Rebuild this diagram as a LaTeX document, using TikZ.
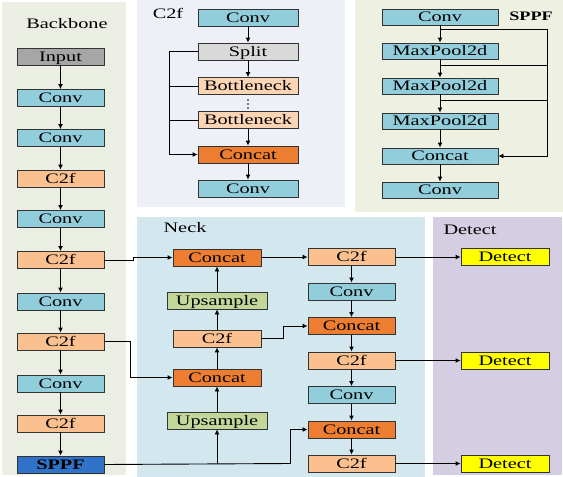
\documentclass[tikz,border=0pt]{standalone}
\usepackage{fontspec}
\setmainfont{Liberation Serif}[FakeStretch=1.4]
\usetikzlibrary{arrows.meta}
\definecolor{convc}{HTML}{92CDDC}
\definecolor{c2fc}{HTML}{FAC090}
\definecolor{inputc}{HTML}{A6A6A6}
\definecolor{splitc}{HTML}{D9D9D9}
\definecolor{bottc}{HTML}{FCD5B5}
\definecolor{catc}{HTML}{ED7D31}
\definecolor{sppfc}{HTML}{3072C8}
\definecolor{upc}{HTML}{C4D79B}
\definecolor{detc}{HTML}{FFFF00}
\definecolor{bordc}{HTML}{333333}
\definecolor{bbbg}{HTML}{EBEEE2}
\definecolor{cfbg}{HTML}{EDF0F6}
\definecolor{spbg}{HTML}{EEF0E2}
\definecolor{nkbg}{HTML}{D3E8EE}
\definecolor{dtbg}{HTML}{D5CDE1}
\begin{document}
\begin{tikzpicture}[x=1pt,y=-1pt,
  box/.style={draw=bordc, line width=0.9pt, inner sep=0pt, minimum height=17pt,
    font=\fontsize{14.5}{16}\selectfont, text height=10pt, text depth=0.4pt},
  bb/.style={box, minimum width=87pt},
  cf/.style={box, minimum width=100pt},
  sp/.style={box, minimum width=116pt, minimum height=16pt},
  nk/.style={box, minimum width=88pt},
  up/.style={box, minimum width=100pt, fill=upc},
  lbl/.style={font=\fontsize{14.5}{16}\selectfont, inner sep=0pt},
  arr/.style={-{Latex[length=5pt,width=5pt]}, line width=0.9pt, draw=black},
  ln/.style={line width=0.9pt, draw=black}]
\useasboundingbox (0,0) rectangle (563,477);
% panels
\fill[bbbg] (2,2) rectangle (126,475);
\fill[cfbg] (137,0) rectangle (345,207);
\fill[spbg] (355,0) rectangle (563,212);
\fill[nkbg] (137,217) rectangle (425,477);
\fill[dtbg] (433,217) rectangle (562,475);
% labels
\node[lbl] (Lbb) at (67,24) {Backbone};
\node[lbl] (Lcf) at (168,13) {C2f};
\node[lbl, font=\fontsize{13}{15}\selectfont] (Lsp) at (531,16) {\bfseries SPPF};
\node[lbl] (Lnk) at (185,228) {Neck};
\node[lbl] (Ldt) at (470,230) {Detect};
% backbone
\node[bb, fill=inputc] (b0) at (60.5,56.5) {Input};
\node[bb, fill=convc] (b1) at (60.5,98) {Conv};
\node[bb, fill=convc] (b2) at (60.5,138) {Conv};
\node[bb, fill=c2fc] (b3) at (60.5,178.5) {C2f};
\node[bb, fill=convc] (b4) at (60.5,219) {Conv};
\node[bb, fill=c2fc] (b5) at (60.5,260) {C2f};
\node[bb, fill=convc] (b6) at (60.5,301.5) {Conv};
\node[bb, fill=c2fc] (b7) at (60.5,341.5) {C2f};
\node[bb, fill=convc] (b8) at (60.5,383.5) {Conv};
\node[bb, fill=c2fc] (b9) at (60.5,423.5) {C2f};
\node[bb, fill=sppfc] (b10) at (60.5,464.5) {\bfseries SPPF};
\foreach \i/\j in {b0/b1,b1/b2,b2/b3,b3/b4,b4/b5,b5/b6,b6/b7,b7/b8,b8/b9,b9/b10}
  \draw[arr] (\i.south) -- (\j.north);
% C2f panel
\node[cf, fill=convc] (c0) at (248,17.5) {Conv};
\node[cf, fill=splitc] (c1) at (248,51.5) {Split};
\node[cf, fill=bottc] (c2) at (248,86) {Bottleneck};
\node[cf, fill=bottc] (c3) at (248,120) {Bottleneck};
\node[cf, fill=catc] (c4) at (248,154.5) {Concat};
\node[cf, fill=convc] (c5) at (248,188.5) {Conv};
\draw[arr] (c0.south) -- (c1.north);
\draw[arr] (c1.south) -- (c2.north);
\draw[arr] (c3.south) -- (c4.north);
\draw[arr] (c4.south) -- (c5.north);
\fill (248,100) circle (0.8) (248,104) circle (0.8) (248,108) circle (0.8);
\coordinate (cb) at (169,51.5);
\draw[ln] (c1.west) -- (cb);
\draw[arr] (cb) |- (c4.west);
\draw[ln] (c2.west) -- (c2.west -| cb);
\draw[ln] (c3.west) -- (c3.west -| cb);
% SPPF panel
\node[sp, fill=convc] (s0) at (440,17) {Conv};
\node[sp, fill=convc] (s1) at (440,51) {MaxPool2d};
\node[sp, fill=convc] (s2) at (440,86) {MaxPool2d};
\node[sp, fill=convc] (s3) at (440,121) {MaxPool2d};
\node[sp, fill=convc] (s4) at (440,156) {Concat};
\node[sp, fill=convc] (s5) at (440,190) {Conv};
\foreach \i/\j in {s0/s1,s1/s2,s2/s3,s3/s4,s4/s5}
  \draw[arr] (\i.south) -- (\j.north);
\coordinate (sa) at (440,29);
\coordinate (sb) at (440,65);
\coordinate (sc) at (440,100);
\coordinate (sr) at (547,29);
\draw[arr] (sa) -- (sr) |- (s4.east);
\draw[ln] (sb) -- (sb -| sr);
\draw[ln] (sc) -- (sc -| sr);
% Neck left column
\node[nk, fill=catc] (n1) at (217,257.5) {Concat};
\node[up] (n2) at (217,300.5) {Upsample};
\node[nk, fill=c2fc] (n3) at (217,338.5) {C2f};
\node[nk, fill=catc] (n4) at (217,377.5) {Concat};
\node[up] (n5) at (217,420.5) {Upsample};
\draw[arr] (n5.north) -- (n4.south);
\draw[arr] (n4.north) -- (n3.south);
\draw[arr] (n3.north) -- (n2.south);
\draw[arr] (n2.north) -- (n1.south);
% Neck right column
\node[bb, fill=c2fc] (r1) at (351.5,257) {C2f};
\node[bb, fill=convc] (r2) at (351.5,291.5) {Conv};
\node[bb, fill=catc] (r3) at (351.5,326) {Concat};
\node[bb, fill=c2fc] (r4) at (351.5,360.5) {C2f};
\node[bb, fill=convc] (r5) at (351.5,395) {Conv};
\node[bb, fill=catc] (r6) at (351.5,429.5) {Concat};
\node[bb, fill=c2fc] (r7) at (351.5,463.5) {C2f};
\foreach \i/\j in {r1/r2,r2/r3,r3/r4,r4/r5,r5/r6,r6/r7}
  \draw[arr] (\i.south) -- (\j.north);
% Detect
\node[nk, fill=detc] (d1) at (505,257) {Detect};
\node[nk, fill=detc] (d2) at (505,360.5) {Detect};
\node[nk, fill=detc] (d3) at (505,463.5) {Detect};
\draw[arr] (r1.east) -- (d1.west);
\draw[arr] (r4.east) -- (d2.west);
\draw[arr] (r7.east) -- (d3.west);
% cross connections
\draw[arr] (b5.east) -- (133,260) |- (n1.west);
\draw[arr] (b7.east) -- (130,341.5) |- (n4.west);
\coordinate (sp1) at (217,463.5);
\coordinate (sp2) at (290,463.5);
\draw[ln] (b10.east) -- (sp2);
\draw[arr] (sp2) |- (r6.west);
\draw[arr] (sp1) -- (n5.south);
\draw[arr] (n1.east) -- (275,257.5) |- (r1.west);
\draw[arr] (n3.east) -- (283,338.5) |- (r3.west);
\end{tikzpicture}
\end{document}
